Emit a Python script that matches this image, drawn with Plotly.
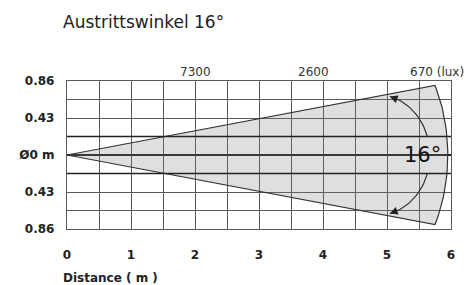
import numpy as np
import plotly.graph_objects as go

# ---- data ----
title_text = "Austrittswinkel 16°"
x_ticks = [0, 1, 2, 3, 4, 5, 6]
x_minor = [0.5, 1.5, 2.5, 3.5, 4.5, 5.5]
y_ticks = [-0.86, -0.43, 0, 0.43, 0.86]
y_ticktext = ["0.86", "0.43", "Ø0 m", "0.43", "0.86"]
y_minor = [-0.645, -0.215, 0.215, 0.645]
emphasized_rows = [-0.215, 0.215]
lux_labels = ["7300", "2600", "670 (lux)"]
lux_positions = [2.0, 3.85, 5.78]
beam_angle_deg = 16
beam_edge_x = 5.75      # x where the straight beam edges end
beam_arc_tip = 5.95     # x where the end arc crosses the axis
angle_label = "16°"

# ---- geometry derived from the values ----
half = np.radians(beam_angle_deg / 2)
yc = beam_edge_x * np.tan(half)
cx = 4.5
a = beam_arc_tip - cx
t0 = np.arccos((beam_edge_x - cx) / a)
b = yc / np.sin(t0)
t = np.linspace(t0, -t0, 40)
arc_x = cx + a * np.cos(t)
arc_y = b * np.sin(t)
beam_x = np.concatenate([[0], arc_x, [0]])
beam_y = np.concatenate([[0], arc_y, [0]])

# inner angle arc (ellipse) with a gap for the label
acx, aa, ab = 4.85, 0.82, 0.70
top_t = np.linspace(np.arcsin(0.68 / ab), np.arcsin(0.22 / ab), 20)
bot_t = -top_t
fig = go.Figure()

fig.add_trace(go.Scatter(x=beam_x, y=beam_y, mode="lines", fill="toself",
                         fillcolor="rgba(128,128,128,0.25)",
                         line=dict(color="#333333", width=1.2),
                         hoverinfo="skip", showlegend=False))
for tt in (top_t, bot_t):
    fig.add_trace(go.Scatter(x=acx + aa * np.cos(tt), y=ab * np.sin(tt), mode="lines",
                             line=dict(color="#333333", width=1.2),
                             hoverinfo="skip", showlegend=False))

# arrowheads at the arc ends
for tt in (top_t, bot_t):
    fig.add_annotation(x=acx + aa * np.cos(tt[0]), y=ab * np.sin(tt[0]),
                       ax=acx + aa * np.cos(tt[3]), ay=ab * np.sin(tt[3]),
                       xref="x", yref="y", axref="x", ayref="y",
                       showarrow=True, arrowhead=2, arrowsize=1.3, arrowwidth=1.2,
                       arrowcolor="#222222", text="")

fig.add_annotation(x=acx + aa * 0.86, y=0, text=angle_label, showarrow=False,
                   font=dict(family="DejaVu Sans", size=21, color="#111111"),
                   xanchor="center", yanchor="middle")

for lab, pos in zip(lux_labels, lux_positions):
    fig.add_annotation(x=pos, y=1, xref="x", yref="paper", yshift=9, text=lab,
                       showarrow=False, yanchor="middle",
                       font=dict(family="DejaVu Sans", size=12, color="#333333"))

fig.add_annotation(x=-0.016, y=-0.33, xref="paper", yref="paper",
                   text="Distance ( m )", showarrow=False, xanchor="left", yanchor="middle",
                   font=dict(family="DejaVu Sans", size=12, color="#222222", weight="bold"))

for r in emphasized_rows:
    fig.add_shape(type="line", xref="paper", yref="y", x0=0, x1=1, y0=r, y1=r,
                  line=dict(color="#222222", width=1.6), layer="above")

grid_col = "#5a5a5a"
fig.update_layout(
    width=466, height=285,
    margin=dict(l=67, r=15, t=81, b=56),
    paper_bgcolor="white", plot_bgcolor="white",
    title=dict(text=title_text, x=63 / 466, xanchor="left", y=1 - 22 / 285,
               yanchor="middle", font=dict(family="DejaVu Sans", size=17, color="#222222")),
    xaxis=dict(range=[0, 6], tickvals=x_ticks, showgrid=True, gridcolor=grid_col,
               gridwidth=1.3, zeroline=False, showline=True, linecolor=grid_col,
               linewidth=1.3, mirror=True, ticks="", ticklabelstandoff=14,
               tickfont=dict(family="DejaVu Sans", size=12, color="#222222", weight="bold"),
               minor=dict(tickvals=x_minor, showgrid=True, gridcolor=grid_col, gridwidth=1.3)),
    yaxis=dict(range=[-0.86, 0.86], tickvals=y_ticks, ticktext=y_ticktext,
               showgrid=True, gridcolor=grid_col, gridwidth=1.3,
               zeroline=True, zerolinecolor="#222222", zerolinewidth=1.6,
               showline=True, linecolor=grid_col, linewidth=1.3, mirror=True,
               ticks="", ticklabelstandoff=9,
               tickfont=dict(family="DejaVu Sans", size=12, color="#222222", weight="bold"),
               minor=dict(tickvals=y_minor, showgrid=True, gridcolor=grid_col, gridwidth=1.3)),
)

fig.write_html("out.html", config={"displayModeBar": False},
               post_script="document.body.style.margin='0';document.body.style.overflow='hidden';")
